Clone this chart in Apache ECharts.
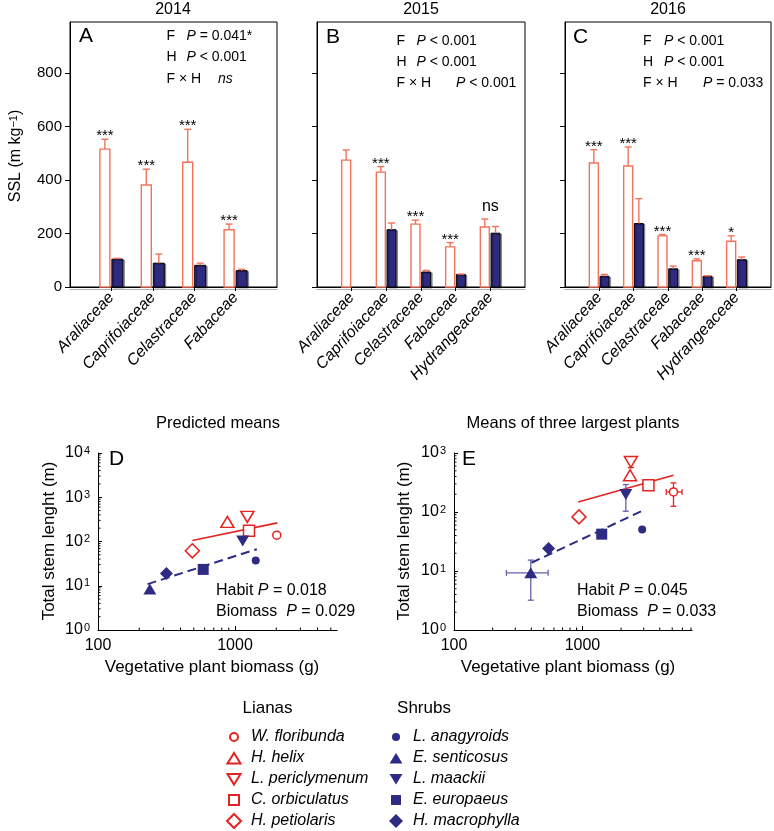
<!DOCTYPE html>
<html>
<head>
<meta charset="utf-8">
<script src="https://cdn.jsdelivr.net/npm/echarts@6/dist/echarts.min.js"></script>
<style>html,body{margin:0;padding:0;background:#fff}#c{width:774px;height:831px}</style>
</head>
<body>
<div id="c"></div>
<script>
// ---------- DATA ----------
// Panel A (2014)
const familiesA = ['Araliaceae', 'Caprifoiaceae', 'Celastraceae', 'Fabaceae'];
const lianaA = [515, 381, 466, 214];
const lianaErrA = [37, 59, 123, 21];
const shrubA = [104, 89, 81, 61];
const shrubErrA = [3, 34, 8, 5];
const sigA = ['***', '***', '***', '***'];
// Panel B (2015)
const familiesB = ['Araliaceae', 'Caprifoiaceae', 'Celastraceae', 'Fabaceae', 'Hydrangeaceae'];
const lianaB = [474, 429, 235, 150, 224];
const lianaErrB = [38, 21, 15, 16, 30];
const shrubB = [null, 214, 56, 47, 201];
const shrubErrB = [null, 25, 6, 1, 25];
const sigB = ['', '***', '***', '***', 'ns'];
// Panel C (2016)
const familiesC = ['Araliaceae', 'Caprifoiaceae', 'Celastraceae', 'Fabaceae', 'Hydrangeaceae'];
const lianaC = [463, 452, 191, 98, 171];
const lianaErrC = [50, 71, 5, 7, 20];
const shrubC = [40, 237, 68, 40, 102];
const shrubErrC = [7, 93, 10, 2, 10];
const sigC = ['***', '***', '***', '***', '*'];
const sslTicks = [0, 200, 400, 600, 800];

// Panels D & E
const species = ['W. floribunda', 'H. helix', 'L. periclymenum', 'C. orbiculatus', 'H. petiolaris',
                 'L. anagyroids', 'E. senticosus', 'L. maackii', 'E. europaeus', 'H. macrophylla'];
const habit = ['Lianas', 'Lianas', 'Lianas', 'Lianas', 'Lianas', 'Shrubs', 'Shrubs', 'Shrubs', 'Shrubs', 'Shrubs'];
// D: predicted means
const predBiomass = [2018, 879, 1230, 1265, 488, 1416, 239, 1138, 586, 316];
const predLength = [139, 277, 360, 174, 61.5, 37.3, 8.4, 102, 23.4, 19];
const predLianaFitX = [488, 2038];
const predLianaFitY = [105.5, 264];
const predShrubFitX = [230, 1443];
const predShrubFitY = [10.9, 67];
// E: means of three largest plants
const topBiomass = [5117, 2350, 2383, 3266, 940, 2918, 396, 2177, 1413, 545];
const topLength = [219, 419, 704, 284, 82.6, 50.6, 9.3, 198, 42.1, 24.1];
const topBiomassLo = [4490, null, null, null, null, null, 256, null, null, null];
const topBiomassHi = [5960, null, null, null, null, null, 541, null, null, null];
const topLengthLo = [125, null, 566, null, null, null, 3.2, 103, null, null];
const topLengthHi = [311, null, 782, null, null, null, 15.3, 292, null, null];
const topLianaFitX = [927, 5117];
const topLianaFitY = [148, 420];
const topShrubFitX = [401, 2985];
const topShrubFitY = [13.8, 107];

// ---------- STYLE ----------
const FONT = '"Liberation Sans", Arial, Helvetica, sans-serif';
const BAR_RED = '#f2735b';
const BAR_NAVY = '#2d2a7f';
const PT_RED = '#e3231f';
const PT_NAVY = '#2e2b84';
const ERR_NAVY = '#6462ad';
const symbols = ['circle', 'triangle', 'triangle', 'rect', 'diamond', 'circle', 'triangle', 'triangle', 'rect', 'diamond'];
const symRot = [0, 0, 180, 0, 0, 0, 0, 180, 0, 0];
const symSize = [8, [13, 11], [13, 11], 11, 14, 8, [13, 11], [13, 11], 11, 13];
// legend icons (sized inside a 14x14 box)
const ICON_CIRCLE = 'path://M0,0M14,14M7,3A4,4,0,1,1,7,11A4,4,0,1,1,7,3Z';
const ICON_UP = 'path://M0,0M14,14M7,2L13.5,12.5L0.5,12.5Z';
const ICON_DOWN = 'path://M0,0M14,14M0.5,2L13.5,2L7,12.5Z';
const ICON_RECT = 'path://M0,0M14,14M2,2L12,2L12,12L2,12Z';
const ICON_DIAMOND = 'path://M0,0M14,14M7,0L14,7L7,14L0,7Z';
const legendIcons = [ICON_CIRCLE, ICON_UP, ICON_DOWN, ICON_RECT, ICON_DIAMOND,
                     ICON_CIRCLE, ICON_UP, ICON_DOWN, ICON_RECT, ICON_DIAMOND];

function ln(x1, y1, x2, y2, color, w) {
  return { type: 'line', shape: { x1, y1, x2, y2 }, style: { stroke: color, lineWidth: w || 1.3 } };
}

// geometry per panel: [white offset, white width, navy offset, navy width]
const barGeom = [[-6.5, 10, 6, 11], [-5.5, 9, 5.2, 9], [-5.5, 9, 5.2, 9]];

function barSeries(idx, fams, liana, lErr, shrub, sErr, sig) {
  const g = barGeom[idx];
  return {
    type: 'custom', coordinateSystem: 'cartesian2d', xAxisIndex: idx, yAxisIndex: idx,
    silent: true, clip: false, z: 3,
    data: fams.map((f, i) => [i + 1, liana[i]]),
    renderItem(params, api) {
      const i = params.dataIndex;
      const x = i + 1;
      const base = api.coord([x, 0]);
      const t = base[0], y0 = base[1];
      const ch = [];
      let capL = null, capS = null;
      const cxL = t + g[0];
      if (liana[i] != null) {
        const top = api.coord([x, liana[i]])[1];
        capL = api.coord([x, liana[i] + lErr[i]])[1];
        ch.push({ type: 'rect', shape: { x: cxL - g[1] / 2, y: top, width: g[1], height: y0 - top },
          style: { fill: '#fff', stroke: BAR_RED, lineWidth: 1.4 } });
        ch.push(ln(cxL, top, cxL, capL, BAR_RED, 1.4));
        ch.push(ln(cxL - 3.5, capL, cxL + 3.5, capL, BAR_RED, 1.4));
      }
      if (shrub[i] != null) {
        const cx = t + g[2];
        const top = api.coord([x, shrub[i]])[1];
        capS = api.coord([x, shrub[i] + sErr[i]])[1];
        ch.push({ type: 'rect', shape: { x: cx - g[3] / 2, y: top, width: g[3], height: y0 - top },
          style: { fill: BAR_NAVY, stroke: '#000', lineWidth: 1, shadowColor: 'rgba(0,0,0,0.35)', shadowOffsetX: 1.5, shadowOffsetY: 1 } });
        ch.push(ln(cx, top, cx, capS, BAR_RED, 1.4));
        ch.push(ln(cx - 3.5, capS, cx + 3.5, capS, BAR_RED, 1.4));
      }
      const s = sig[i];
      if (s === 'ns') {
        const yc = Math.min(capL == null ? 1e9 : capL, capS == null ? 1e9 : capS);
        ch.push({ type: 'text', style: { text: 'ns', x: t, y: yc - 12, align: 'center', verticalAlign: 'middle',
          fontSize: 16, fontFamily: FONT, fill: '#000' } });
      } else if (s) {
        ch.push({ type: 'text', style: { text: s, x: cxL, y: capL - 3, align: 'center', verticalAlign: 'middle',
          fontSize: 15, fontFamily: FONT, fill: '#000' } });
      }
      return { type: 'group', children: ch };
    }
  };
}

const grids = [
  { left: 70, top: 22, width: 207, height: 265 },
  { left: 317, top: 22, width: 208, height: 265 },
  { left: 565, top: 22, width: 206, height: 265 },
  { left: 98, top: 453, width: 239, height: 177 },
  { left: 454, top: 453, width: 238, height: 177 }
].map((g, i) => Object.assign(g, i < 3 ? { show: true, borderColor: '#000', borderWidth: 1 } : { show: false }));

function catAxis(idx, fams) {
  const n = fams.length;
  return {
    type: 'category', gridIndex: idx, boundaryGap: false, data: [''].concat(fams, ['']),
    axisLine: { onZero: false, lineStyle: { color: '#000', width: 1, shadowColor: 'rgba(0,0,0,0.3)', shadowOffsetY: 2 } },
    axisTick: { show: true, inside: false, length: 4, interval: (index) => index > 0 && index < n + 1, lineStyle: { color: '#000' } },
    axisLabel: { interval: 0, rotate: 47, fontSize: 16, fontStyle: 'italic', color: '#000', fontFamily: FONT, margin: 8 },
    splitLine: { show: false }
  };
}
function sslAxis(idx, showLabels) {
  return {
    type: 'value', gridIndex: idx, min: 0, max: 990, interval: 200,
    axisLine: { show: true, lineStyle: { color: '#000' } },
    axisTick: { show: true, inside: false, length: 5, customValues: sslTicks, lineStyle: { color: '#000' } },
    axisLabel: { show: showLabels, customValues: sslTicks, fontSize: 15, color: '#000', fontFamily: FONT, margin: 8,
      formatter: (v) => (v % 200 === 0 ? String(v) : '') },
    splitLine: { show: false }
  };
}
function isPow10(v) { const l = Math.log10(v); return Math.abs(l - Math.round(l)) < 1e-6; }
function logX(idx, max) {
  return {
    type: 'log', logBase: 10, gridIndex: idx, min: 100, max: max,
    axisLine: { onZero: false, lineStyle: { color: '#000' } },
    axisTick: { inside: true, length: 4, lineStyle: { color: '#000' } },
    axisLabel: { fontSize: 16, color: '#000', fontFamily: FONT, margin: 8, showMaxLabel: false,
      formatter: (v) => (isPow10(v) ? String(Math.round(v)) : '') },
    splitLine: { show: false }
  };
}
function logY(idx, max) {
  return {
    type: 'log', logBase: 10, gridIndex: idx, min: 1, max: max,
    axisLine: { onZero: false, lineStyle: { color: '#000' } },
    axisTick: { inside: true, length: 4, lineStyle: { color: '#000' } },
    axisLabel: { fontSize: 16, color: '#000', fontFamily: FONT, margin: 8,
      formatter: (v) => (isPow10(v) ? '{b|10}{s|' + Math.round(Math.log10(v)) + '}' : ''),
      rich: { b: { fontSize: 16, fontFamily: FONT, color: '#000' },
              s: { fontSize: 11, fontFamily: FONT, color: '#000', verticalAlign: 'top', padding: [0, 0, 4, 1] } } },
    splitLine: { show: false }
  };
}

function minorTickSeries(idx, xmax, ymax) {
  const data = [];
  for (let d = 100; d < xmax; d *= 10) for (let k = 2; k <= 9; k++) if (d * k < xmax) data.push([d * k, 1, 0]);
  for (let d = 1; d < ymax; d *= 10) for (let k = 2; k <= 9; k++) if (d * k < ymax) data.push([100, d * k, 1]);
  return {
    type: 'custom', coordinateSystem: 'cartesian2d', xAxisIndex: idx, yAxisIndex: idx, silent: true, z: 2,
    data: data,
    renderItem(params, api) {
      const p = api.coord([api.value(0), api.value(1)]);
      if (api.value(2) === 0) return ln(p[0], p[1], p[0], p[1] - 2.5, '#000', 1);
      return ln(p[0], p[1], p[0] + 2.5, p[1], '#000', 1);
    }
  };
}

function scatterSeries(i, idx, bx, ly) {
  const liana = habit[i] === 'Lianas';
  return {
    type: 'scatter', name: species[i], xAxisIndex: idx, yAxisIndex: idx, z: 6, silent: true,
    data: [[bx[i], ly[i]]], symbol: symbols[i], symbolSize: symSize[i], symbolRotate: symRot[i],
    itemStyle: liana ? { color: '#fff', borderColor: PT_RED, borderWidth: 1.5, opacity: 1 }
                     : { color: PT_NAVY, borderWidth: 0, opacity: 1 },
    emphasis: { disabled: true }
  };
}
function fitLine(idx, xs, ys, color, dashed) {
  return {
    type: 'line', xAxisIndex: idx, yAxisIndex: idx, z: 4, silent: true, symbol: 'none', showSymbol: false,
    data: xs.map((x, i) => [x, ys[i]]),
    lineStyle: { color: color, width: dashed ? 2 : 1.6, type: dashed ? [9, 5] : 'solid' }
  };
}
const errSeries = {
  type: 'custom', coordinateSystem: 'cartesian2d', xAxisIndex: 4, yAxisIndex: 4, z: 5, silent: true,
  data: species.map((s, i) => [topBiomass[i], topLength[i]]),
  renderItem(params, api) {
    const i = params.dataIndex;
    const col = habit[i] === 'Lianas' ? PT_RED : ERR_NAVY;
    const c = api.coord([topBiomass[i], topLength[i]]);
    const ch = [];
    if (topBiomassLo[i] != null) {
      const a = api.coord([topBiomassLo[i], topLength[i]]), b = api.coord([topBiomassHi[i], topLength[i]]);
      ch.push(ln(a[0], c[1], b[0], c[1], col, 1.3));
      ch.push(ln(a[0], c[1] - 3, a[0], c[1] + 3, col, 1.3));
      ch.push(ln(b[0], c[1] - 3, b[0], c[1] + 3, col, 1.3));
    }
    if (topLengthLo[i] != null) {
      const a = api.coord([topBiomass[i], topLengthLo[i]]), b = api.coord([topBiomass[i], topLengthHi[i]]);
      ch.push(ln(c[0], a[1], c[0], b[1], col, 1.3));
      ch.push(ln(c[0] - 3, a[1], c[0] + 3, a[1], col, 1.3));
      ch.push(ln(c[0] - 3, b[1], c[0] + 3, b[1], col, 1.3));
    }
    return { type: 'group', children: ch };
  }
};

const series = [
  barSeries(0, familiesA, lianaA, lianaErrA, shrubA, shrubErrA, sigA),
  barSeries(1, familiesB, lianaB, lianaErrB, shrubB, shrubErrB, sigB),
  barSeries(2, familiesC, lianaC, lianaErrC, shrubC, shrubErrC, sigC),
  minorTickSeries(3, 5550, 10000),
  minorTickSeries(4, 7130, 1000),
  fitLine(3, predLianaFitX, predLianaFitY, PT_RED, false),
  fitLine(3, predShrubFitX, predShrubFitY, PT_NAVY, true),
  fitLine(4, topLianaFitX, topLianaFitY, PT_RED, false),
  fitLine(4, topShrubFitX, topShrubFitY, PT_NAVY, true),
  errSeries
];
species.forEach((s, i) => {
  series.push(scatterSeries(i, 3, predBiomass, predLength));
  series.push(scatterSeries(i, 4, topBiomass, topLength));
});

// ---------- TEXT ----------
function txt(x, y, text, opts) {
  const fs = (opts && opts.fs) || 15;
  return Object.assign({ type: 'text', x: x, y: y, silent: true,
    style: Object.assign({ text: text, fontSize: fs, fontFamily: FONT, fill: '#000', align: 'left', verticalAlign: 'middle',
      rich: { i: { fontStyle: 'italic', fontSize: fs, fontFamily: FONT },
              s: { fontSize: 11, fontFamily: FONT, verticalAlign: 'top' } } }, (opts && opts.style) || {}) },
    (opts && opts.el) || {});
}
const S14 = { fs: 14 };
const graphics = [
  txt(173, 10, '2014', { fs: 16, style: { align: 'center' } }),
  txt(421, 10, '2015', { fs: 16, style: { align: 'center' } }),
  txt(668, 10, '2016', { fs: 16, style: { align: 'center' } }),
  txt(79, 36, 'A', { fs: 21 }),
  txt(326, 37, 'B', { fs: 21 }),
  txt(573, 37, 'C', { fs: 21 }),
  // A stats
  txt(166.5, 36, 'F', S14), txt(186.5, 36, '{i|P} = 0.041*', S14),
  txt(166.5, 57.5, 'H', S14), txt(186.5, 57.5, '{i|P} < 0.001', S14),
  txt(166.5, 79, 'F × H', S14), txt(218, 79, '{i|ns}', S14),
  // B stats
  txt(396.5, 41.5, 'F', S14), txt(416.5, 41.5, '{i|P} < 0.001', S14),
  txt(396.5, 62.5, 'H', S14), txt(416.5, 62.5, '{i|P} < 0.001', S14),
  txt(396.5, 83, 'F × H', S14), txt(456, 83, '{i|P} < 0.001', S14),
  // C stats
  txt(643, 41.5, 'F', S14), txt(664, 41.5, '{i|P} < 0.001', S14),
  txt(643, 62.5, 'H', S14), txt(664, 62.5, '{i|P} < 0.001', S14),
  txt(643, 83, 'F × H', S14), txt(703, 83, '{i|P} = 0.033', S14),
  // SSL axis name
  txt(16, 156, 'SSL (m kg{s|−1})', { fs: 16, style: { align: 'center' }, el: { rotation: Math.PI / 2 } }),
  // lower panels
  txt(218, 423, 'Predicted means', { fs: 16.5, style: { align: 'center' } }),
  txt(573, 423, 'Means of three largest plants', { fs: 16.5, style: { align: 'center' } }),
  txt(109, 459, 'D', { fs: 21 }),
  txt(462, 459, 'E', { fs: 21 }),
  txt(49, 541, 'Total stem lenght (m)', { fs: 17, style: { align: 'center' }, el: { rotation: Math.PI / 2 } }),
  txt(404, 541, 'Total stem lenght (m)', { fs: 17, style: { align: 'center' }, el: { rotation: Math.PI / 2 } }),
  txt(212, 667, 'Vegetative plant biomass (g)', { fs: 17, style: { align: 'center' } }),
  txt(568, 667, 'Vegetative plant biomass (g)', { fs: 17, style: { align: 'center' } }),
  txt(216, 591, 'Habit {i|P} = 0.018', { fs: 16 }),
  txt(216, 612, 'Biomass  {i|P} = 0.029', { fs: 16 }),
  txt(577, 591, 'Habit {i|P} = 0.045', { fs: 16 }),
  txt(577, 612, 'Biomass  {i|P} = 0.033', { fs: 16 }),
  txt(267.5, 708, 'Lianas', { fs: 17, style: { align: 'center' } }),
  txt(424, 708, 'Shrubs', { fs: 17, style: { align: 'center' } })
];

const legendCommon = {
  orient: 'vertical', top: 729, height: 110, padding: 0, itemWidth: 14, itemHeight: 14, itemGap: 5,
  selectedMode: false,
  textStyle: { fontSize: 16, fontStyle: 'italic', fontFamily: FONT, color: '#000', padding: [0, 0, 0, 5] }
};
const legendData = species.map((s, i) => ({ name: s, icon: legendIcons[i] }));

const option = {
  animation: false,
  backgroundColor: '#fff',
  textStyle: { fontFamily: FONT },
  grid: grids,
  xAxis: [catAxis(0, familiesA), catAxis(1, familiesB), catAxis(2, familiesC), logX(3, 5550), logX(4, 7130)],
  yAxis: [sslAxis(0, true), sslAxis(1, false), sslAxis(2, false), logY(3, 10000), logY(4, 1000)],
  legend: [
    Object.assign({ left: 226, data: legendData.slice(0, 5) }, legendCommon),
    Object.assign({ left: 389, data: legendData.slice(5) }, legendCommon)
  ],
  graphic: graphics,
  series: series
};

const chart = echarts.init(document.getElementById('c'), null, { renderer: 'canvas' });
chart.setOption(option);
</script>
</body>
</html>
